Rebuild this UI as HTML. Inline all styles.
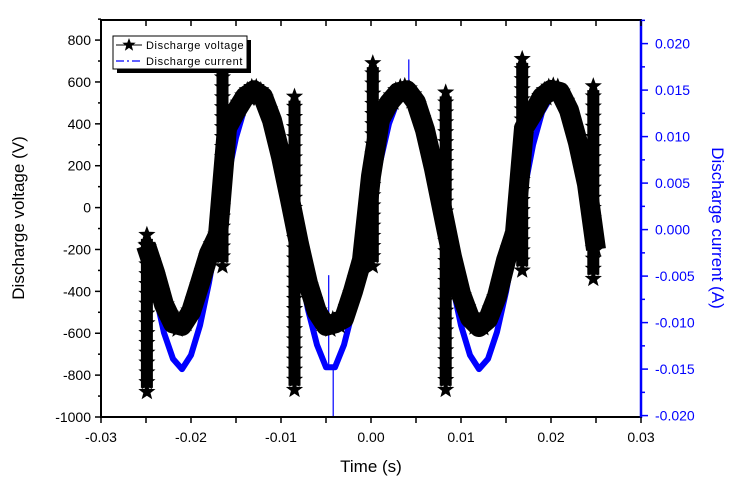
<!DOCTYPE html>
<html><head><meta charset="utf-8"><style>
body{margin:0;background:#fff}
svg{display:block;font-family:"Liberation Sans",Arial,sans-serif}
</style></head><body>
<svg id="chart" width="738" height="488" viewBox="0 0 738 488" xmlns="http://www.w3.org/2000/svg">
<g id="curr"></g>
<g id="volt"></g>
<g id="axes"></g>
<g>
  <rect x="117" y="40" width="134" height="33" fill="#000"/>
  <rect x="113" y="36" width="134" height="33" fill="#fff" stroke="#000" stroke-width="1"/>
  <line x1="116" y1="45" x2="142" y2="45" stroke="#000" stroke-width="1"/>
  <polygon id="legstar" fill="#000"/>
  <text x="146" y="49" font-size="11" letter-spacing="0.6">Discharge voltage</text>
  <line x1="116" y1="61" x2="142" y2="61" stroke="#0000ff" stroke-width="1.3" stroke-dasharray="8,3,2,3"/>
  <text x="146" y="65" font-size="11" letter-spacing="0.6">Discharge current</text>
</g>
<text x="24" y="218" font-size="17" text-anchor="middle" transform="rotate(-90 24 218)">Discharge voltage (V)</text>
<text x="712" y="228" font-size="17" fill="#0000ff" text-anchor="middle" transform="rotate(90 712 228)">Discharge current (A)</text>
<text x="371" y="472" font-size="17" text-anchor="middle">Time (s)</text>
</svg>
<script>
const times=[-25,-24,-23,-22,-21,-20,-19,-18,-17,-16,-15,-14,-13,-12,-11,-10,-9,-8,-7,-6,-5,-4,-3,-2,-1,0,1,2,3,4,5,6,7,8,9,10,11,12,13,14,15,16,17,18,19,20,21,22,23,24,25];
const voltage=[-180,-310,-463,-553,-565,-498,-361,-220,-130,380,460,530,560,530,417,243,38,-174,-362,-498,-565,-553,-530,-400,-250,150,420,500,550,560,503,371,186,-26,-236,-412,-527,-570,-534,-423,-252,-120,380,450,530,562,552,465,310,112,-200];
const current=[-0.0014,-0.0067,-0.0111,-0.0139,-0.0150,-0.0135,-0.0103,-0.0057,-0.0003,0.0052,0.0099,0.0132,0.0142,0.0140,0.0114,0.0072,0.0019,-0.0036,-0.0086,-0.0124,-0.0148,-0.0148,-0.0124,-0.0086,-0.0036,0.0020,0.0072,0.0114,0.0140,0.0145,0.0132,0.0099,0.0052,-0.0003,-0.0057,-0.0103,-0.0135,-0.0150,-0.0139,-0.0110,-0.0067,-0.0014,0.0041,0.0091,0.0126,0.0143,0.0142,0.0119,0.0079,0.0028,-0.0020];
const spikeT=[-24.9,-16.5,-8.5,0.2,8.3,16.8,24.7];
const spikeTop=[-130,670,530,690,550,710,580];
const spikeBottom=[-880,-280,-870,-280,-870,-300,-340];
const cSpikeT=[-4.2,-4.7,4.2];
const cSpikeV=[-0.0202,-0.0049,0.0183];
const xTicks=[-0.03,-0.02,-0.01,0.00,0.01,0.02,0.03];
const xTickLabels=["-0.03","-0.02","-0.01","0.00","0.01","0.02","0.03"];
const yTicks=[-1000,-800,-600,-400,-200,0,200,400,600,800];
const yTickLabels=["-1000","-800","-600","-400","-200","0","200","400","600","800"];
const rTicks=[-0.02,-0.015,-0.01,-0.005,0,0.005,0.01,0.015,0.02];
const rTickLabels=["-0.020","-0.015","-0.010","-0.005","0.000","0.005","0.010","0.015","0.020"];

const L=101,R=641,T=20,B=417;
const xs=ms=>371+ms*9;
const xsS=s=>371+s*9000;
const yl=v=>417-(v+1000)*0.2094;
const yr=c=>229.6-c*9300;
const NS="http://www.w3.org/2000/svg";
function mk(tag,attrs,parent){const e=document.createElementNS(NS,tag);for(const k in attrs)e.setAttribute(k,attrs[k]);parent.appendChild(e);return e;}
function starPts(x,y,r){let p=[];for(let k=0;k<10;k++){const a=-Math.PI/2+k*Math.PI/5;const rr=k%2?r*0.42:r;p.push((x+rr*Math.cos(a)).toFixed(1)+','+(y+rr*Math.sin(a)).toFixed(1));}return p.join(' ');}
document.getElementById('legstar').setAttribute('points',starPts(129,45,7));

// current series
const cg=document.getElementById('curr');
let d='';
times.forEach((t,i)=>{d+=(i?'L':'M')+xs(t).toFixed(1)+','+yr(current[i]).toFixed(1);});
const cp=mk('path',{d:d,fill:'none',stroke:'#0000ff','stroke-width':6,'stroke-linejoin':'round'},cg);


cSpikeT.forEach((t,i)=>{
  let j=times.findIndex(tt=>tt>t);const a=(t-times[j-1])/(times[j]-times[j-1]);
  const base=current[j-1]+(current[j]-current[j-1])*a;
  const l=mk('line',{x1:xs(t),x2:xs(t),y1:yr(base),y2:yr(cSpikeV[i]),stroke:'#0000ff','stroke-width':1.2},cg);
  
  
});

// voltage series
const vg=document.getElementById('volt');
let dv='';
times.forEach((t,i)=>{dv+=(i?'L':'M')+xs(t).toFixed(1)+','+yl(voltage[i]).toFixed(1);});
const vp=mk('path',{d:dv,fill:'none',stroke:'#000','stroke-width':20,'stroke-linejoin':'round'},vg);


function star(x,y,r){return mk('polygon',{points:starPts(x,y,r),fill:'#000'},vg);}
times.forEach((t,i)=>{
  const st=star(xs(t),yl(voltage[i]),9);
  
  
  if(i<times.length-1){
    for(let k=1;k<4;k++){const a=k/4;
      const yy=yl(voltage[i]+(voltage[i+1]-voltage[i])*a);
      const s2=star(xs(t+a),yy+(k%2?-5:5),9);
      
      }
  }
});
spikeT.forEach((t,i)=>{
  const x=xs(t),y1=yl(spikeTop[i]),y2=yl(spikeBottom[i]);
  const ln=mk('line',{x1:x,x2:x,y1:y1+4,y2:y2-4,stroke:'#000','stroke-width':12},vg);
  
  
  const n=Math.max(1,Math.round((y2-y1)/10));
  for(let k=0;k<=n;k++){const y=y1+(y2-y1)*k/n;
    const s=star(x,y,9);
    
    
  }
});

// axes
const ag=document.getElementById('axes');
mk('rect',{x:L,y:T,width:R-L,height:B-T,fill:'none',stroke:'#000','stroke-width':2},ag);
const ra=mk('line',{x1:R,x2:R,y1:T,y2:B+1,stroke:'#0000ff','stroke-width':2.5},ag);


for(let v=-0.03;v<=0.0301;v+=0.005){const x=xsS(v);
  mk('line',{x1:x,x2:x,y1:B,y2:B+6,stroke:'#000','stroke-width':1.5},ag);
  mk('line',{x1:x,x2:x,y1:T,y2:T+6,stroke:'#000','stroke-width':1.5},ag);}
xTicks.forEach((v,i)=>{const t=mk('text',{x:xsS(v),y:B+25,'font-size':14,'text-anchor':'middle'},ag);t.textContent=xTickLabels[i];
  
  });
for(let v=-1000;v<=900;v+=100){const y=yl(v);const maj=v%200===0;
  mk('line',{x1:L-(maj?6:3),x2:L,y1:y,y2:y,stroke:'#000','stroke-width':1.5},ag);}
yTicks.forEach((v,i)=>{const t=mk('text',{x:L-10,y:yl(v)+5,'font-size':14,'text-anchor':'end'},ag);t.textContent=yTickLabels[i];
  
  });
for(let c=-0.02;c<=0.0226;c+=0.0025){const y=yr(c);const maj=Math.abs(Math.round(c/0.005)*0.005-c)<1e-6;
  mk('line',{x1:R,x2:R+(maj?7:4),y1:y,y2:y,stroke:'#0000ff','stroke-width':1.5},ag);}
rTicks.forEach((v,i)=>{const t=mk('text',{x:R+14,y:yr(v)+5,'font-size':14,fill:'#0000ff'},ag);t.textContent=rTickLabels[i];
  
  });
</script>
</body></html>
